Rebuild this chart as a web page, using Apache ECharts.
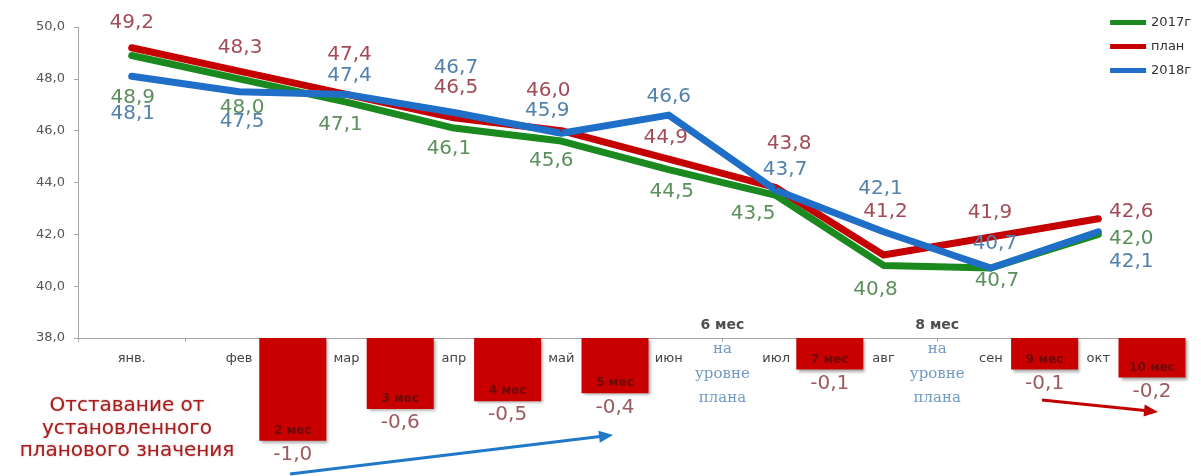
<!DOCTYPE html>
<html>
<head>
<meta charset="utf-8">
<title>Отставание от установленного планового значения</title>
<script src="https://cdn.jsdelivr.net/npm/echarts@6.0.0/dist/echarts.min.js"></script>
<style>
  html, body { margin: 0; padding: 0; background: #fff; }
  #chart { width: 1201px; height: 476px; }
</style>
</head>
<body>
<div id="chart"></div>
<script>
const months = ['янв.', 'фев', 'мар', 'апр', 'май', 'июн', 'июл', 'авг', 'сен', 'окт'];
const fact2017 = [48.9, 48.0, 47.1, 46.1, 45.6, 44.5, 43.5, 40.8, 40.7, 42.0];
const plan = [49.2, 48.3, 47.4, 46.5, 46.0, 44.9, 43.8, 41.2, 41.9, 42.6];
const fact2018 = [48.1, 47.5, 47.4, 46.7, 45.9, 46.6, 43.7, 42.1, 40.7, 42.1];

// cumulative lag behind plan, 2..10 months (0 = on plan)
const periods = ['2 мес', '3 мес', '4 мес', '5 мес', '6 мес', '7 мес', '8 мес', '9 мес', '10 мес'];
const lag = [-1.0, -0.6, -0.5, -0.4, 0, -0.1, 0, -0.1, -0.2];

// label offsets (px from point) so the numbers don't collide
const off2017 = [[1, 42], [3, 29], [-6, 23], [-5, 21], [-10, 20], [3, 22], [-23, 18], [-8, 24], [6, 13], [33, 4]];
const offPlan = [[0, -25], [1, -23], [3, -40], [2, -30], [-13, -40], [-3, -21], [13, -44], [2, -43], [-1, -24], [33, -7]];
const off2018 = [[1, 38], [3, 30], [3, -19], [2, -45], [-14, -22], [0, -18], [9, -20], [-3, -43], [4, -24], [33, 30]];

const FONT = 'DejaVu Sans';
const fmt = (v) => Number(v).toFixed(1).replace('.', ',');

function lineSeries(name, values, color, labelColor, offsets) {
  return {
    name: name,
    type: 'line',
    xAxisIndex: 0,
    yAxisIndex: 0,
    symbol: 'circle',
    symbolSize: 2,
    showSymbol: true,
    lineStyle: { width: 7, color: color, cap: 'round', join: 'round' },
    itemStyle: { color: color },
    label: {
      show: true,
      position: 'inside',
      fontFamily: FONT,
      fontSize: 20,
      color: labelColor,
      formatter: (p) => fmt(p.value)
    },
    data: values.map((v, i) => ({ value: v, label: { offset: offsets[i] } }))
  };
}

// bar axis has one slot per month boundary: slot k sits between month k and k+1
const barCats = ['', ''].concat(periods);
const barVals = [null, null].concat(lag.map((v) => (v === 0 ? null : v)));
const zeroVals = [null, null].concat(lag.map((v) => (v === 0 ? 0 : null)));

const chart = echarts.init(document.getElementById('chart'));

chart.setOption({
  animation: false,
  backgroundColor: '#fff',
  textStyle: { fontFamily: FONT },
  legend: {
    data: ['2017г', 'план', '2018г'],
    orient: 'vertical',
    right: 10,
    top: 16,
    padding: 0,
    icon: 'rect',
    itemWidth: 36,
    itemHeight: 5,
    itemGap: 11,
    textStyle: { fontSize: 13, color: '#333', fontFamily: FONT }
  },
  grid: [
    { left: 78, top: 27, width: 1074, height: 311 },
    { left: 78, top: 338, width: 1074, height: 118.5 }
  ],
  xAxis: [
    {
      gridIndex: 0,
      type: 'category',
      data: months,
      boundaryGap: true,
      axisLine: { lineStyle: { color: '#a6a6a6' } },
      axisTick: { show: true, length: 4, lineStyle: { color: '#a6a6a6' } },
      axisLabel: { fontSize: 13, color: '#444', margin: 14, fontFamily: FONT }
    },
    {
      gridIndex: 1,
      type: 'category',
      data: barCats,
      boundaryGap: false,
      show: false
    }
  ],
  yAxis: [
    {
      gridIndex: 0,
      type: 'value',
      min: 38,
      max: 50,
      interval: 2,
      axisLine: { show: true, lineStyle: { color: '#a6a6a6' } },
      axisTick: { show: true, length: 4, lineStyle: { color: '#a6a6a6' } },
      splitLine: { show: false },
      axisLabel: { fontSize: 13, color: '#555', margin: 13, formatter: (v) => fmt(v) }
    },
    {
      gridIndex: 1,
      type: 'value',
      min: -1.2,
      max: 0.3,
      startValue: 0.3,
      show: false,
      splitLine: { show: false }
    }
  ],
  series: [
    lineSeries('2017г', fact2017, '#1a8a1e', '#5c8f5c', off2017),
    lineSeries('план', plan, '#c40000', '#a24c57', offPlan),
    lineSeries('2018г', fact2018, '#1f6fc8', '#5282ad', off2018),
    {
      name: 'lag',
      type: 'bar',
      xAxisIndex: 1,
      yAxisIndex: 1,
      barWidth: 67,
      data: barVals,
      itemStyle: {
        color: '#c80000',
        shadowBlur: 3,
        shadowColor: 'rgba(0,0,0,0.35)',
        shadowOffsetX: 2,
        shadowOffsetY: 2
      },
      label: {
        show: true,
        position: 'insideBottom',
        distance: 4,
        fontSize: 12,
        fontWeight: 'bold',
        color: '#6e0a0a',
        formatter: (p) => p.name
      }
    },
    {
      name: 'lagValue',
      type: 'bar',
      xAxisIndex: 1,
      yAxisIndex: 1,
      barWidth: 67,
      barGap: '-100%',
      data: barVals,
      itemStyle: { color: 'rgba(0,0,0,0)' },
      label: {
        show: true,
        position: 'bottom',
        distance: 4,
        fontSize: 20,
        color: '#9c5a5e',
        formatter: (p) => fmt(p.value)
      }
    },
    {
      name: 'onPlan',
      type: 'scatter',
      xAxisIndex: 1,
      yAxisIndex: 1,
      symbolSize: 1,
      itemStyle: { color: 'rgba(0,0,0,0)' },
      data: zeroVals,
      label: {
        show: true,
        position: 'inside',
        formatter: (p) => '{b|' + p.name + '}\n{n|на}\n{n|уровне}\n{n|плана}',
        rich: {
          b: { fontSize: 14, fontWeight: 'bold', color: '#222', lineHeight: 24.5, fontFamily: FONT },
          n: { fontSize: 15, color: '#4a7fb5', lineHeight: 24.5, fontFamily: 'DejaVu Serif' }
        }
      }
    }
  ],
  graphic: [
    {
      type: 'text',
      left: 12,
      top: 395,
      style: {
        text: 'Отставание от\nустановленного\nпланового значения',
        width: 230,
        align: 'center',
        textAlign: 'center',
        x: 115,
        lineHeight: 22.5,
        font: '20px "DejaVu Sans"',
        fill: '#a81c1c',
        textShadowColor: 'rgba(120,0,0,0.35)',
        textShadowBlur: 2
      }
    },
    {
      type: 'line',
      shape: { x1: 290, y1: 474, x2: 600, y2: 436.6 },
      style: { stroke: '#1f78c8', lineWidth: 3 }
    },
    {
      type: 'polygon',
      shape: { points: [[613, 435], [599.8, 442.7], [598.4, 430.7]] },
      style: { fill: '#1f78c8' }
    },
    {
      type: 'line',
      shape: { x1: 1042, y1: 400, x2: 1145, y2: 410.6 },
      style: { stroke: '#c00000', lineWidth: 3 }
    },
    {
      type: 'polygon',
      shape: { points: [[1158, 412], [1143.5, 416.6], [1144.7, 404.6]] },
      style: { fill: '#c00000' }
    }
  ]
});
</script>
</body>
</html>
